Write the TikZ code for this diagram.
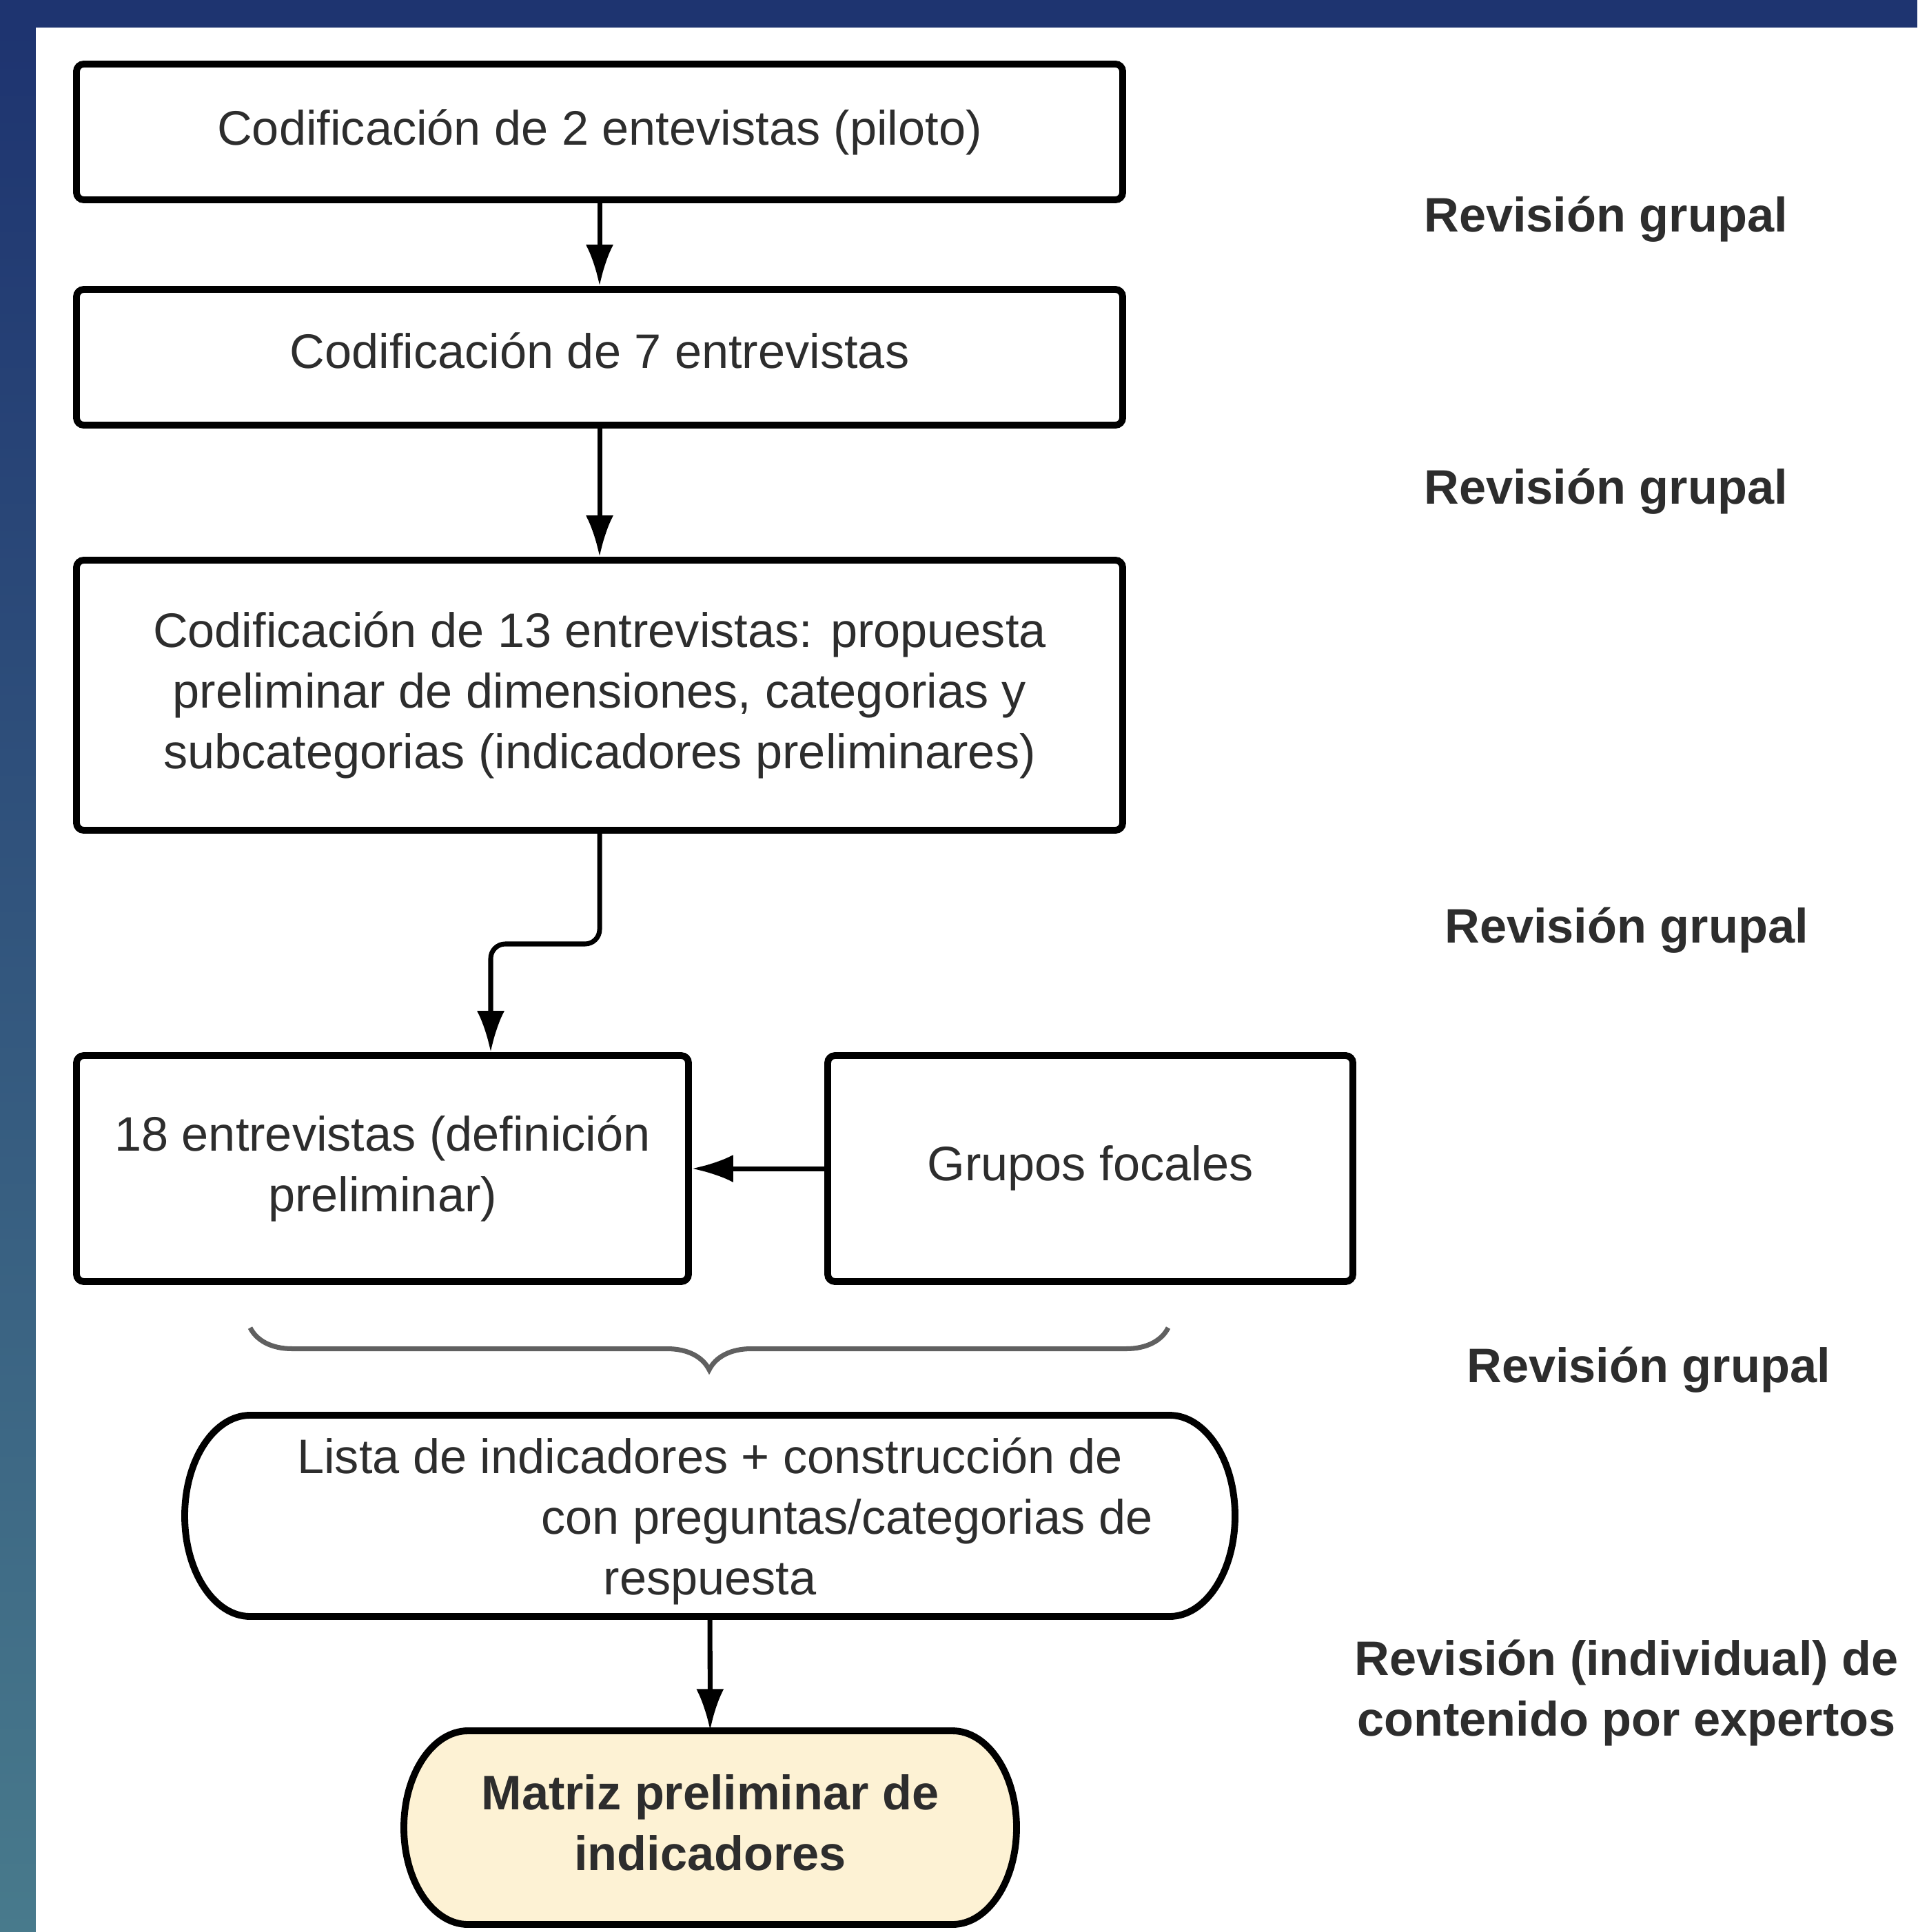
\documentclass[tikz,border=0pt]{standalone}
\usepackage{fontspec}
\setmainfont{Liberation Sans}
\usepackage{xcolor}
\usetikzlibrary{arrows.meta,decorations.pathreplacing}

\definecolor{fondoazul}{RGB}{30,52,112}
\definecolor{fondomedio}{RGB}{52,72,138}
\definecolor{fondoverde}{RGB}{72,122,140}
\definecolor{texto}{RGB}{45,45,45}
\definecolor{crema}{RGB}{253,242,212}
\definecolor{gris}{RGB}{96,96,96}

\begin{document}
\begin{tikzpicture}[
  caja/.style={draw=black, line width=2.8pt, rounded corners=3pt, inner sep=0pt,
    align=center, text=texto, font=\fontsize{20}{25}\selectfont},
  pastilla/.style={inner sep=0pt, align=center, text=texto, font=\fontsize{20}{25}\selectfont},
  flecha/.style={line width=2pt, -{Latex[length=0.6cm,width=0.4cm]}},
  revision/.style={align=center, text=texto, font=\fontsize{20}{25}\selectfont\bfseries}
  ]
\useasboundingbox (0,0) rectangle (27.82,-28.04);
% fondo
\fill[fondoazul] (0,0) rectangle (27.82,-0.40);
\shade[top color=fondoazul, middle color=fondomedio, bottom color=fondoverde] (0,-0.40) rectangle (0.52,-28.04);
\fill[white] (0.52,-0.40) rectangle (27.82,-28.04);

% cajas
\node[caja, minimum width=15.18cm, minimum height=1.97cm] (cod2) at (8.70,-1.915) {\raisebox{0.08cm}{Codificación de 2 entevistas (piloto)}};
\node[caja, minimum width=15.18cm, minimum height=1.97cm] (cod7) at (8.70,-5.185) {\raisebox{0.2cm}{Codificación de 7 entrevistas}};
\node[caja, minimum width=15.18cm, minimum height=3.92cm] (cod13) at (8.70,-10.09) {Codificación de 13 entrevistas: propuesta\\ preliminar de dimensiones, categorias y\\ subcategorias (indicadores preliminares)};
\node[caja, minimum width=8.88cm, minimum height=3.28cm] (ent18) at (5.55,-16.96) {18 entrevistas (definición\\ preliminar)};
\node[caja, minimum width=7.62cm, minimum height=3.28cm] (focales) at (15.82,-16.96) {\raisebox{0.15cm}{Grupos focales}};

% llave
\draw[gris, line width=2pt, decorate, decoration={brace, mirror, amplitude=0.61cm}] (3.63,-19.27) -- (16.95,-19.27);

% pastillas
\draw[line width=2.8pt] (3.63,-20.54) -- (16.97,-20.54) arc[start angle=90, end angle=-90, x radius=0.95, y radius=1.46]
  -- (3.63,-23.46) arc[start angle=270, end angle=90, x radius=0.95, y radius=1.46] -- cycle;
\node[pastilla, minimum width=15.24cm, minimum height=2.92cm] (lista) at (10.30,-22.00) {\raisebox{-0.09cm}[\height][\depth]{\begin{tabular}{@{}c@{}}Lista de indicadores + construcción de\\ \hspace*{3.98cm}con preguntas/categorias de\\ respuesta\end{tabular}}};

\draw[line width=2.8pt, fill=crema] (6.79,-25.12) -- (13.82,-25.12) arc[start angle=90, end angle=-90, x radius=0.93, y radius=1.405]
  -- (6.79,-27.93) arc[start angle=270, end angle=90, x radius=0.93, y radius=1.405] -- cycle;
\node[pastilla, minimum width=8.89cm, minimum height=2.81cm, font=\fontsize{20}{25}\selectfont\bfseries] (matriz) at (10.305,-26.525) {\raisebox{0.12cm}{\begin{tabular}{@{}c@{}}Matriz preliminar de\\ indicadores\end{tabular}}};

% revisiones
\node[revision] (rev1) at (23.30,-3.18) {Revisión grupal};
\node[revision] (rev2) at (23.30,-7.13) {Revisión grupal};
\node[revision] (rev3) at (23.60,-13.50) {Revisión grupal};
\node[revision] (rev4) at (23.92,-19.88) {Revisión grupal};
\node[revision] (rev5) at (23.60,-24.57) {Revisión (individual) de\\ contenido por expertos};

% flechas
\draw[flecha] (cod2) -- (cod7);
\draw[flecha] (cod7) -- (cod13);
\coordinate (codo) at (7.12,-13.70);
\draw[flecha, rounded corners=6pt] (cod13.south) |- (codo) -- (codo |- ent18.north);
\draw[flecha] (focales) -- (ent18);
\draw[flecha] (lista) -- (matriz);
\end{tikzpicture}
\end{document}
